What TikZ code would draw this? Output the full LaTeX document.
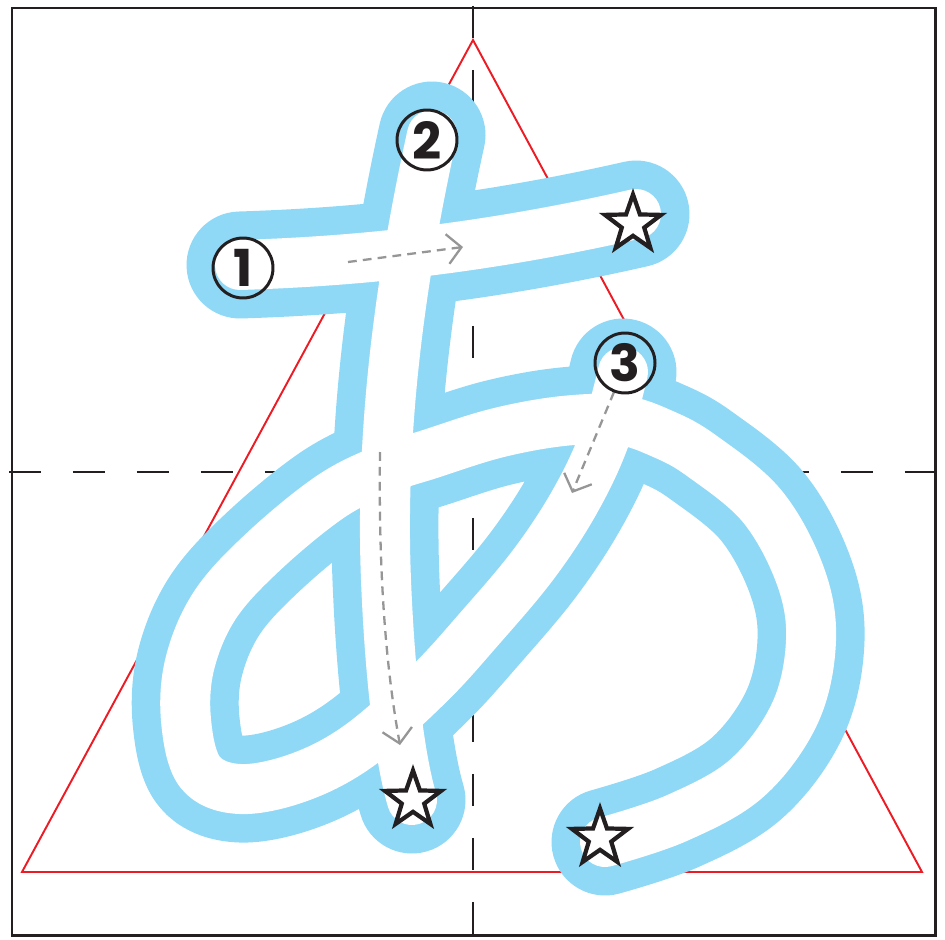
\documentclass[tikz,border=0pt]{standalone}
\usepackage{fontspec}
\usepackage{tikz}
\usetikzlibrary{arrows.meta,shapes.geometric}
\newfontfamily\numfont{Poppins}
\definecolor{inkblue}{RGB}{143,216,246}
\definecolor{guidered}{RGB}{237,28,36}
\definecolor{framegray}{RGB}{35,31,32}
\definecolor{arrowgray}{RGB}{150,150,150}

\begin{document}
\begin{tikzpicture}[x=0.02cm,y=-0.02cm,
  inkout/.style={line width=2.14cm,inkblue,line cap=round,line join=round},
  inkin/.style={line width=1.0cm,white,line cap=round,line join=round},
  guide/.style={framegray,line width=1.4pt,dash pattern=on 0.64cm off 0.64cm},
  order/.style={circle,draw=framegray,line width=1.7pt,minimum size=1.2cm,inner sep=0pt,
    font=\numfont\bfseries\fontsize{29}{29}\selectfont,text=framegray},
  endstar/.style={star,star points=5,star point ratio=2.5,draw=framegray,fill=white,
    line width=2.4pt,minimum size=1.18cm,inner sep=0pt},
  trace/.style={arrowgray,line width=1.3pt,dash pattern=on 5pt off 3.5pt,
    -{Straight Barb[length=8pt,width=17pt]}}]
\useasboundingbox (0,0) rectangle (945,939);
%% grid
\draw[guide] (473,6)--(473,935);
\draw[guide] (9,472)--(935,472);
\draw[framegray,line width=1.7pt] (12,8) rectangle (935,935);
%% triangle
\draw[guidered,line width=1.1pt] (473,40)--(922,872)--(22,872)--cycle;
%% strokes
\foreach \s in {inkout,inkin}{
  \draw[\s] (240,265) .. controls (330,262) and (460,254) .. (636,214);
  \draw[\s] (432,135) .. controls (400,280) and (380,430) .. (386,580)
    .. controls (390,680) and (400,760) .. (412,800);
  \draw[\s] plot[smooth,tension=0.6] coordinates {(623,372) (604,440) (574,503)
    (533,565) (480,628) (428,685) (360,745) (300,777) (240,789) (200,772)
    (186,720) (190,663) (215,605) (263,552) (330,497) (385,469) (430,454)
    (497,433) (563,421) (620,420) (663,434) (702,456) (762,506) (800,575)
    (811,640) (795,713) (747,778) (677,818) (605,842)};
}
%% direction
\draw[trace] (348,262)--(463,247);
\draw[trace] (380,452) .. controls (378,600) and (390,690) .. (400,745);
\draw[trace] (614,392)--(572,493);
%% order and ends
\node[order] (n1) at (243,268) {1};
\node[order] (n2) at (427,140) {2};
\node[order] (n3) at (625,363) {3};
\node[endstar] (s1) at (633,224) {};
\node[endstar] (s2) at (413,800) {};
\node[endstar] (s3) at (600,838) {};
\end{tikzpicture}
\end{document}
